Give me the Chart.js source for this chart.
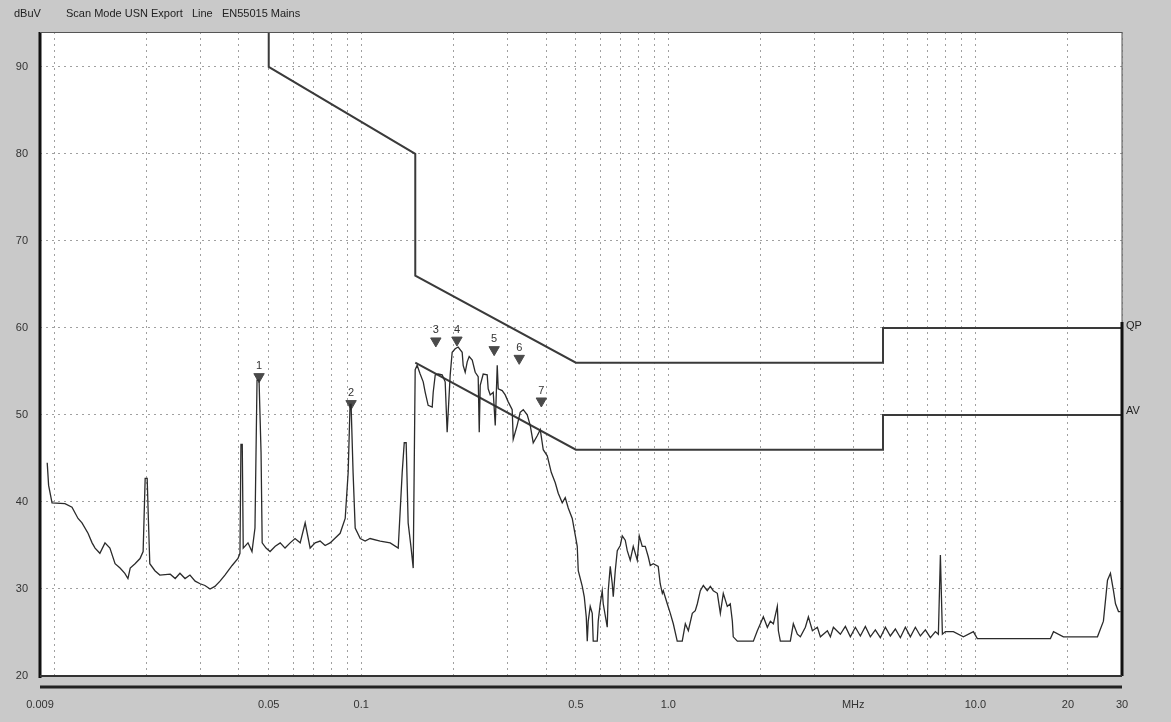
<!DOCTYPE html>
<html>
<head>
<meta charset="utf-8">
<script src="https://cdn.jsdelivr.net/npm/chart.js@4/dist/chart.umd.min.js"></script>
<style>
  body { margin: 0; background: #c9c9c9; }
  #wrap { position: relative; width: 1171px; height: 722px; overflow: hidden; }
  .lbl { position: absolute; font-family: "Liberation Sans", Arial, sans-serif; font-size: 11px; color: #222; white-space: pre; }
</style>
</head>
<body>
<div id="wrap">
  <canvas id="chart" width="1171" height="722"></canvas>
  <span class="lbl" style="left:14px;top:7px;">dBuV</span>
  <span class="lbl" style="left:66px;top:7px;">Scan Mode USN Export   Line   EN55015 Mains</span>
  <span class="lbl" style="left:1126px;top:319px;">QP</span>
  <span class="lbl" style="left:1126px;top:404px;">AV</span>
</div>
<script>
// measured trace (MHz / dBuV)
const traceFreq = [
  0.0095, 0.0096, 0.00985, 0.01085, 0.01144, 0.01197, 0.01233, 0.0129, 0.0133, 0.0136,
  0.0141, 0.01465, 0.0152, 0.0158, 0.0164, 0.017, 0.0174, 0.0177, 0.01835, 0.01905,
  0.0195, 0.0198, 0.0201, 0.0203, 0.0205, 0.0213, 0.0221, 0.0239, 0.0248, 0.0257,
  0.0267, 0.0277, 0.0288, 0.0299, 0.031, 0.0322, 0.0334, 0.0347, 0.036, 0.038,
  0.0397, 0.0403, 0.0406, 0.041, 0.0413, 0.0428, 0.0441, 0.0451, 0.0458, 0.0465,
  0.0472, 0.0476, 0.049, 0.0505, 0.0525, 0.0545, 0.0565, 0.0587, 0.0609, 0.0633,
  0.0657, 0.0682, 0.0708, 0.0735, 0.0763, 0.0792, 0.0854, 0.0887, 0.0907, 0.092,
  0.0927, 0.0941, 0.0956, 0.0993, 0.103, 0.1069, 0.1153, 0.1243, 0.132, 0.136,
  0.1381, 0.1401, 0.1422, 0.1454, 0.1477, 0.1499, 0.1521, 0.1556, 0.1592, 0.1616,
  0.1652, 0.1703, 0.1716, 0.1742, 0.1781, 0.1835, 0.1877, 0.1905, 0.192, 0.1949,
  0.1978, 0.2023, 0.2069, 0.2132, 0.2148, 0.2181, 0.2214, 0.2247, 0.2299, 0.2351,
  0.2404, 0.2423, 0.2441, 0.2496, 0.2572, 0.2591, 0.2631, 0.2691, 0.2732, 0.2773,
  0.2794, 0.2878, 0.2944, 0.3011, 0.3102, 0.3126, 0.322, 0.3294, 0.337, 0.3472,
  0.3551, 0.3632, 0.3743, 0.3829, 0.3915, 0.4035, 0.4157, 0.4284, 0.4381, 0.4514,
  0.4617, 0.4722, 0.4866, 0.4977, 0.5052, 0.509, 0.5246, 0.5325, 0.5405, 0.5446,
  0.5486, 0.5568, 0.5653, 0.5695, 0.5869, 0.5913, 0.6002, 0.6093, 0.6139, 0.6326,
  0.6374, 0.647, 0.6568, 0.6618, 0.6718, 0.682, 0.6975, 0.708, 0.724, 0.735,
  0.7517, 0.7688, 0.7922, 0.8042, 0.8225, 0.8412, 0.8604, 0.8734, 0.8933, 0.927,
  0.941, 0.956, 0.963, 0.992, 1.015, 1.038, 1.069, 1.11, 1.136, 1.162,
  1.197, 1.224, 1.243, 1.271, 1.3, 1.339, 1.37, 1.401, 1.444, 1.477,
  1.51, 1.556, 1.591, 1.616, 1.627, 1.678, 1.892, 1.949, 1.994, 2.039,
  2.101, 2.149, 2.198, 2.264, 2.282, 2.316, 2.496, 2.553, 2.631, 2.691,
  2.794, 2.858, 2.945, 3.057, 3.127, 3.295, 3.37, 3.447, 3.632, 3.771,
  3.915, 4.064, 4.219, 4.38, 4.548, 4.721, 4.901, 5.089, 5.283, 5.485,
  5.695, 5.912, 6.138, 6.373, 6.617, 6.87, 7.132, 7.405, 7.573, 7.688,
  7.804, 7.983, 8.475, 9.135, 9.846, 10.14, 17.54, 17.95, 19.34, 24.96,
  26.1, 26.91, 27.51, 28.14, 28.57, 29.22, 29.66
];
const traceLevel = [
  44.5, 41.9, 39.9, 39.8, 39.4, 38.1, 37.6, 36.4, 35.3, 34.7,
  34.1, 35.3, 34.7, 32.9, 32.4, 31.8, 31.2, 32.4, 32.9, 33.5,
  34.3, 42.7, 42.7, 37.6, 32.9, 32.1, 31.6, 31.7, 31.2, 31.8,
  31.2, 31.6, 30.9, 30.6, 30.4, 30.0, 30.3, 30.9, 31.6, 32.7,
  33.5, 34.1, 46.6, 46.6, 34.7, 35.3, 34.3, 37.0, 54.0, 54.0,
  45.7, 35.3, 34.7, 34.3, 34.9, 35.3, 34.7, 35.3, 35.8, 35.3,
  37.6, 34.7, 35.3, 35.5, 35.0, 35.3, 36.4, 38.1, 43.4, 51.2,
  51.2, 43.4, 37.0, 35.8, 35.5, 35.8, 35.5, 35.3, 34.7, 43.4,
  46.8, 46.8, 37.6, 34.7, 32.4, 55.2, 55.7, 54.7, 53.8, 52.6,
  51.1, 50.9, 52.6, 54.6, 54.7, 54.6, 53.8, 48.0, 50.3, 54.6,
  57.2, 57.6, 57.8, 57.2, 55.7, 54.9, 56.1, 56.7, 56.3, 54.9,
  54.4, 48.0, 53.4, 54.7, 54.6, 53.0, 52.3, 52.6, 48.8, 55.7,
  53.0, 52.8, 52.3, 51.5, 50.6, 47.2, 48.8, 50.3, 50.6, 50.0,
  48.8, 46.8, 47.6, 48.3, 46.0, 45.3, 43.4, 42.2, 41.0, 39.9,
  40.5, 39.3, 38.1, 36.2, 34.9, 32.1, 30.3, 29.1, 26.8, 24.0,
  26.3, 28.0, 27.2, 24.0, 24.0, 26.3, 28.3, 29.8, 28.3, 25.6,
  29.8, 32.6, 30.6, 29.1, 32.1, 34.4, 35.0, 36.1, 35.6, 34.4,
  33.3, 34.9, 33.3, 36.1, 34.9, 34.9, 33.7, 32.7, 32.9, 32.6,
  30.6, 29.5, 29.8, 28.3, 27.2, 26.0, 24.0, 24.0, 26.0, 25.2,
  27.2, 27.5, 28.3, 29.8, 30.4, 29.8, 30.3, 29.8, 29.5, 27.2,
  29.5, 28.0, 28.3, 26.3, 24.5, 24.0, 24.0, 25.2, 26.0, 26.8,
  25.6, 26.3, 26.0, 28.0, 25.2, 24.0, 24.0, 26.0, 24.8, 24.5,
  25.6, 26.8, 25.2, 25.6, 24.5, 25.2, 24.5, 25.6, 24.8, 25.7,
  24.5, 25.6, 24.6, 25.7, 24.5, 25.3, 24.4, 25.6, 24.6, 25.4,
  24.4, 25.6, 24.5, 25.6, 24.6, 25.3, 24.4, 25.1, 24.8, 33.9,
  24.8, 25.1, 25.1, 24.5, 25.1, 24.3, 24.3, 25.1, 24.5, 24.5,
  26.3, 31.0, 31.8, 29.8, 28.3, 27.4, 27.4
];

// EN55015 limit lines
const qpFreq = [0.009, 0.05, 0.05, 0.15, 0.15, 0.5, 5, 5, 30];
const qpLevel = [110, 110, 90, 80, 66, 56, 56, 60, 60];
const avFreq = [0.15, 0.5, 5, 5, 30];
const avLevel = [56, 46, 46, 50, 50];

// peak markers
const markerFreq = [0.0465, 0.0927, 0.175, 0.205, 0.271, 0.327, 0.386];
const markerLevel = [54.4, 51.3, 58.5, 58.6, 57.5, 56.5, 51.6];
const markerLabels = ["1", "2", "3", "4", "5", "6", "7"];

// axis ticks
const xGrid = [0.009, 0.01, 0.02, 0.03, 0.04, 0.05, 0.06, 0.07, 0.08, 0.09,
  0.1, 0.2, 0.3, 0.4, 0.5, 0.6, 0.7, 0.8, 0.9,
  1, 2, 3, 4, 5, 6, 7, 8, 9, 10, 20, 30];
const xTickLabels = { "0.009": "0.009", "0.05": "0.05", "0.1": "0.1", "0.5": "0.5",
  "1": "1.0", "4": "MHz", "10": "10.0", "20": "20", "30": "30" };
const yTicks = [20, 30, 40, 50, 60, 70, 80, 90];

function pairs(xs, ys) {
  return xs.map((x, i) => ({ x: x, y: ys[i] }));
}

const plotFrame = {
  id: "plotFrame",
  beforeDraw(chart) {
    const { ctx, chartArea: a } = chart;
    ctx.save();
    ctx.fillStyle = "#ffffff";
    ctx.fillRect(a.left, a.top, a.right - a.left, a.bottom - a.top);
    ctx.restore();
  },
  afterDraw(chart) {
    const { ctx, chartArea: a } = chart;
    ctx.save();
    ctx.strokeStyle = "#111";
    ctx.lineWidth = 3;
    ctx.beginPath();
    ctx.moveTo(a.left, a.top);
    ctx.lineTo(a.left, a.bottom + 2);
    ctx.moveTo(a.right, a.top + 290);
    ctx.lineTo(a.right, a.bottom);
    ctx.stroke();
    ctx.lineWidth = 1;
    ctx.strokeStyle = "#555";
    ctx.beginPath();
    ctx.moveTo(a.left, a.top + 0.5);
    ctx.lineTo(a.right, a.top + 0.5);
    ctx.moveTo(a.right, a.top);
    ctx.lineTo(a.right, a.top + 290);
    ctx.stroke();
    ctx.strokeStyle = "#333";
    ctx.lineWidth = 2;
    ctx.beginPath();
    ctx.moveTo(a.left, a.bottom);
    ctx.lineTo(a.right, a.bottom);
    ctx.stroke();
    ctx.lineWidth = 3;
    ctx.strokeStyle = "#222";
    ctx.beginPath();
    ctx.moveTo(a.left, a.bottom + 11);
    ctx.lineTo(a.right, a.bottom + 11);
    ctx.stroke();
    ctx.restore();
  },
  afterDatasetsDraw(chart) {
    const { ctx } = chart;
    const meta = chart.getDatasetMeta(3);
    ctx.save();
    ctx.fillStyle = "#333";
    ctx.font = "11px 'Liberation Sans', Arial, sans-serif";
    ctx.textAlign = "center";
    ctx.textBaseline = "bottom";
    meta.data.forEach((pt, i) => {
      ctx.fillText(markerLabels[i], pt.x, pt.y - 5);
    });
    ctx.restore();
  }
};

const ctx = document.getElementById("chart").getContext("2d");
new Chart(ctx, {
  type: "scatter",
  data: {
    datasets: [
      {
        label: "Trace",
        data: pairs(traceFreq, traceLevel),
        showLine: true,
        borderColor: "#2b2b2b",
        borderWidth: 1.3,
        pointRadius: 0,
        tension: 0
      },
      {
        label: "QP",
        data: pairs(qpFreq, qpLevel),
        showLine: true,
        borderColor: "#3a3a3a",
        borderWidth: 2,
        pointRadius: 0
      },
      {
        label: "AV",
        data: pairs(avFreq, avLevel),
        showLine: true,
        borderColor: "#3a3a3a",
        borderWidth: 2,
        pointRadius: 0
      },
      {
        label: "Markers",
        data: pairs(markerFreq, markerLevel),
        showLine: false,
        pointStyle: "triangle",
        rotation: 180,
        pointRadius: 6,
        backgroundColor: "#4a4a4a",
        borderColor: "#4a4a4a",
        borderWidth: 1
      }
    ]
  },
  options: {
    responsive: false,
    animation: false,
    devicePixelRatio: 1,
    layout: { padding: { top: 32, right: 49, left: 0, bottom: 0 } },
    plugins: { legend: { display: false }, tooltip: { enabled: false } },
    scales: {
      x: {
        type: "logarithmic",
        min: 0.009,
        max: 30,
        afterBuildTicks: (scale) => { scale.ticks = xGrid.map((v) => ({ value: v })); },
        afterFit: (scale) => { scale.height = 46; },
        grid: { color: "#a0a0a0", lineWidth: 1, drawTicks: false },
        border: { display: false, dash: [2, 4] },
        ticks: {
          autoSkip: false,
          maxRotation: 0,
          padding: 22,
          color: "#333",
          font: { family: "'Liberation Sans', Arial, sans-serif", size: 11 },
          callback: (v) => xTickLabels[String(v)] || ""
        }
      },
      y: {
        min: 20,
        max: 94,
        afterBuildTicks: (scale) => { scale.ticks = yTicks.map((v) => ({ value: v })); },
        afterFit: (scale) => { scale.width = 40; },
        grid: { color: "#a0a0a0", lineWidth: 1, drawTicks: false },
        border: { display: false, dash: [2, 4] },
        ticks: {
          padding: 12,
          color: "#333",
          font: { family: "'Liberation Sans', Arial, sans-serif", size: 11 }
        }
      }
    }
  },
  plugins: [plotFrame]
});
</script>
</body>
</html>
